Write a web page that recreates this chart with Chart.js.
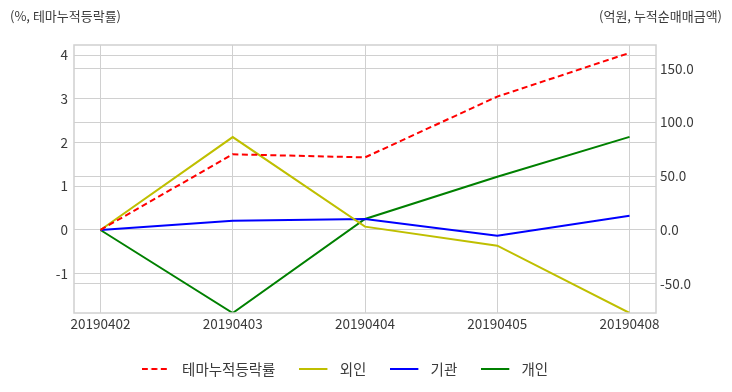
<!DOCTYPE html>
<html><head><meta charset="utf-8">
<script src="https://cdn.jsdelivr.net/npm/chart.js@4/dist/chart.umd.min.js"></script>
<style>html,body{margin:0;padding:0;background:#fff}#wrap{width:732px;height:392px;position:relative}</style>
</head><body><div id="wrap"><canvas id="c" width="732" height="392"></canvas></div>
<script>
const categories = ['20190402','20190403','20190404','20190405','20190408'];
const themeReturn = [0, 1.73, 1.66, 3.05, 4.05];
const foreign = [0, 86.3, 3.1, -14.6, -77.1];
const institution = [0, 8.6, 10.2, -5.3, 13.3];
const individual = [0, -77.1, 10.2, 49.4, 86.5];
const seriesNames = ['테마누적등락률','외인','기관','개인'];
const leftTitle = '(%, 테마누적등락률)';
const rightTitle = '(억원, 누적순매매금액)';

const FONT = "'Noto Sans CJK KR', 'Noto Sans', sans-serif";
const TXT = '#3a3a3a';
const GRID = '#d0d0d0';

function legendIcon(color, dash){
  const cv = document.createElement('canvas');
  cv.width = 33; cv.height = 4;
  const g = cv.getContext('2d');
  g.strokeStyle = color; g.lineWidth = 2;
  if (dash) g.setLineDash(dash);
  g.beginPath(); g.moveTo(0, 2); g.lineTo(28, 2); g.stroke();
  return cv;
}
const toXY = arr => arr.map((v,i)=>({x:i,y:v}));

const cols = ['#ff0000','#bfbf00','#0000ff','#008000'];
const ds = [
  {label: seriesNames[0], data: toXY(themeReturn), yAxisID:'y', borderColor: cols[0], borderDash:[6,3.5], icon: legendIcon(cols[0],[6,3.5])},
  {label: seriesNames[1], data: toXY(foreign), yAxisID:'y1', borderColor: cols[1], icon: legendIcon(cols[1])},
  {label: seriesNames[2], data: toXY(institution), yAxisID:'y1', borderColor: cols[2], icon: legendIcon(cols[2])},
  {label: seriesNames[3], data: toXY(individual), yAxisID:'y1', borderColor: cols[3], icon: legendIcon(cols[3])},
].map(d => Object.assign(d, {borderWidth:2, pointRadius:0, pointHoverRadius:0, fill:false, tension:0, pointStyle: d.icon}));

const titles = {
  id:'titles',
  afterDraw(chart){
    const c = chart.ctx;
    c.save();
    c.font = '13px ' + FONT; c.fillStyle = TXT; c.textBaseline = 'middle';
    c.textAlign = 'left'; c.fillText(leftTitle, 10, 16);
    c.textAlign = 'right'; c.fillText(rightTitle, 722, 16);
    c.restore();
  }
};
const border = {
  id:'border',
  afterDatasetsDraw(chart){
    const a = chart.chartArea, c = chart.ctx;
    c.save(); c.strokeStyle = GRID; c.lineWidth = 1.5;
    c.strokeRect(a.left, a.top, a.right-a.left, a.bottom-a.top);
    c.restore();
  }
};
const legendShift = {
  id:'legendShift',
  afterLayout(chart){ const s = 21; chart.legend.left -= s; chart.legend.right -= s; }
};

new Chart(document.getElementById('c'), {
  type:'line',
  data:{ datasets: ds },
  plugins:[titles, border, legendShift],
  options:{
    responsive:false, animation:false,
    layout:{ padding:{ top:45, left:0, right:0, bottom:5.75 } },
    plugins:{
      tooltip:{enabled:false},
      legend:{ position:'bottom', labels:{ usePointStyle:true, pointStyleWidth:33, padding:24, color:TXT, font:{family:FONT, size:14.5} } }
    },
    scales:{
      x:{ type:'linear', min:-0.2, max:4.2, afterBuildTicks(s){ s.ticks = categories.map((_,i)=>({value:i})); },
          afterFit(s){ s.height = 24.75; },
          grid:{ color:GRID, drawTicks:false }, border:{display:false},
          ticks:{ padding:3, color:TXT, font:{family:FONT, size:13.5}, maxRotation:0, autoSkip:false, callback:(v)=>categories[v] } },
      y:{ position:'left', min:-1.9, max:4.23, afterFit(s){ s.width = 74; },
          afterBuildTicks(s){ s.ticks = [-1,0,1,2,3,4].map(v=>({value:v})); },
          grid:{ color:GRID, drawTicks:false }, border:{display:false},
          ticks:{ padding:6, color:TXT, font:{family:FONT, size:13.5}, callback:v=>String(v) } },
      y1:{ position:'right', min:-77.1, max:171.8, afterFit(s){ s.width = 76; },
          afterBuildTicks(s){ s.ticks = [-50,0,50,100,150].map(v=>({value:v})); },
          grid:{ color:GRID, drawTicks:false }, border:{display:false},
          ticks:{ padding:4, color:TXT, font:{family:FONT, size:13.5}, callback:v=>v.toFixed(1) } }
    }
  }
});
</script></body></html>
